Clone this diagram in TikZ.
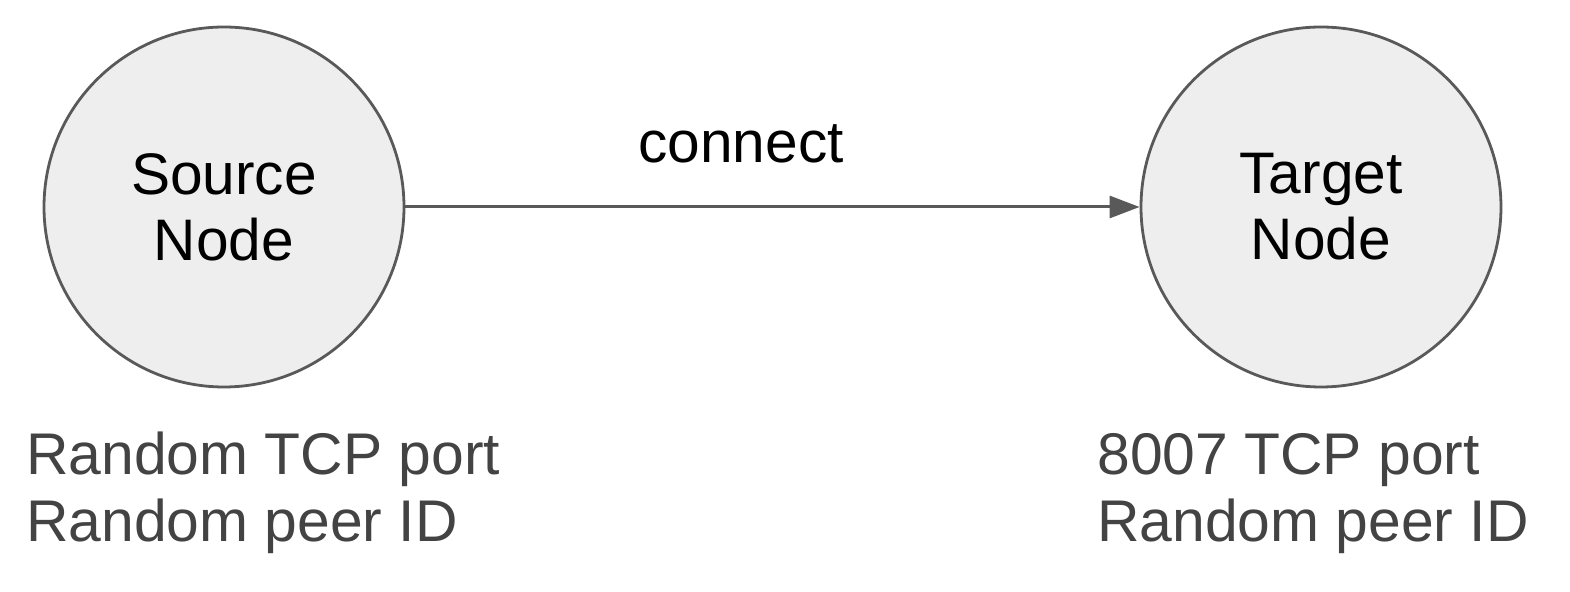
\documentclass[tikz,border=0pt]{standalone}
\usepackage{fontspec}
\setmainfont{Liberation Sans}
\usetikzlibrary{arrows.meta, positioning}

\definecolor{nodefill}{HTML}{EEEEEE}
\definecolor{edgegray}{HTML}{595959}
\definecolor{labelgray}{HTML}{434343}

\begin{document}
\begin{tikzpicture}[x=0.5pt, y=-0.5pt,
    peer/.style={circle, draw=edgegray, line width=1.4pt, fill=nodefill, minimum size=180pt, inner sep=0pt, align=center, font=\fontsize{29.3}{33}\selectfont},
    info/.style={anchor=base west, align=left, inner sep=0pt, text=labelgray, font=\fontsize{29.4}{33.5}\selectfont}
]
    \useasboundingbox (0,0) rectangle (1570,592);

    % Peers
    \node[peer] (source) at (224,207) {Source\\Node};
    \node[peer] (target) at (1321,207) {Target\\Node};

    % Connection
    \draw[edgegray, line width=1.5pt, -{Triangle[length=15pt, width=11pt]}] (source) -- (target);
    \node[anchor=base, inner sep=0pt, font=\fontsize{29.3}{33}\selectfont] (connect) at (741,163) {connect};

    % Port and ID
    \node[info] (sourceinfo) at (26,542) {Random TCP port\\Random peer ID};
    \node[info] (targetinfo) at (1097,542) {8007 TCP port\\Random peer ID};
\end{tikzpicture}
\end{document}
